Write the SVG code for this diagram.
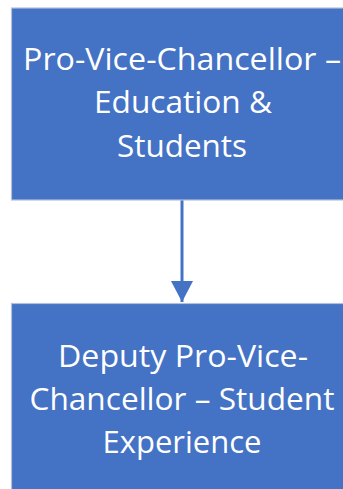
<svg xmlns="http://www.w3.org/2000/svg" width="343" height="489" viewBox="0 0 343 489">
  <style>
    .box { fill: #4472C4; stroke: #B4C0D8; stroke-width: 1.2; }
    .label { font-family: "Open Sans", "Liberation Sans", sans-serif; font-size: 31px; fill: #FFFFFF; text-anchor: middle; }
    .link { stroke: #4472C4; stroke-width: 3; fill: none; }
  </style>
  <defs>
    <marker id="arrow" markerUnits="userSpaceOnUse" markerWidth="22" markerHeight="22" refX="21" refY="11" orient="auto">
      <path d="M0,0 L21,11 L0,22 Z" fill="#4472C4"/>
    </marker>
  </defs>

  <g id="connectors">
    <line class="link" x1="182" y1="200" x2="182" y2="302" marker-end="url(#arrow)"/>
  </g>

  <g id="node-pvc">
    <rect class="box" x="11.5" y="8" width="345" height="192"/>
    <text class="label" x="182" y="70" textLength="318" lengthAdjust="spacingAndGlyphs">Pro-Vice-Chancellor –</text>
    <text class="label" x="183" y="113" textLength="178" lengthAdjust="spacingAndGlyphs">Education &amp;</text>
    <text class="label" x="182" y="157" textLength="130" lengthAdjust="spacingAndGlyphs">Students</text>
  </g>

  <g id="node-dpvc">
    <rect class="box" x="11.5" y="303.5" width="345" height="200"/>
    <text class="label" x="183" y="367" textLength="250" lengthAdjust="spacingAndGlyphs">Deputy Pro-Vice-</text>
    <text class="label" x="182" y="410" textLength="305" lengthAdjust="spacingAndGlyphs">Chancellor – Student</text>
    <text class="label" x="182" y="453" textLength="159" lengthAdjust="spacingAndGlyphs">Experience</text>
  </g>
</svg>
